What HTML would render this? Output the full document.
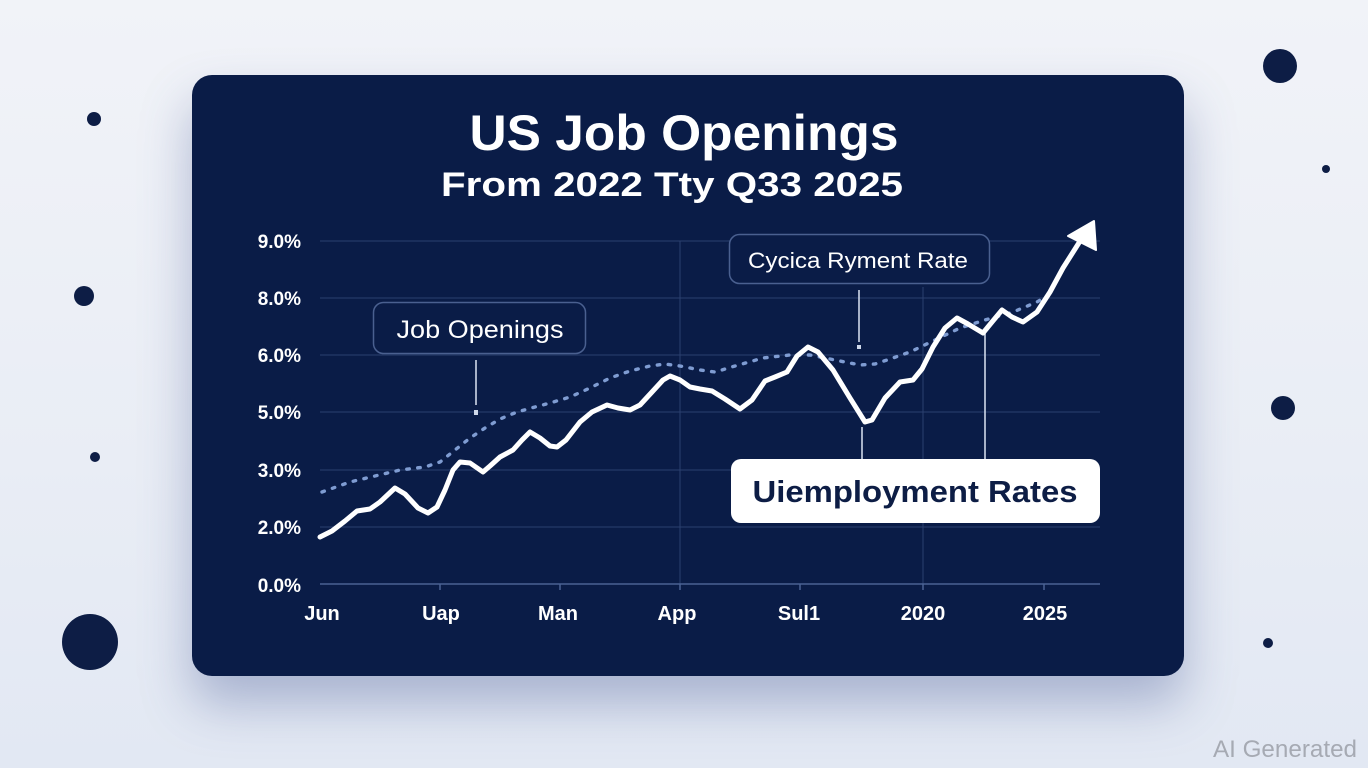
<!DOCTYPE html>
<html><head><meta charset="utf-8"><style>
html,body{margin:0;padding:0;}
body{width:1368px;height:768px;overflow:hidden;background:linear-gradient(180deg,#f1f3f8 0%,#e9edf5 60%,#e2e8f3 100%);position:relative;font-family:"Liberation Sans",sans-serif;}
.card{position:absolute;left:192px;top:75px;width:992px;height:601px;border-radius:20px;background:#0a1c47;box-shadow:0 28px 50px rgba(70,90,150,0.38);}
svg{position:absolute;left:0;top:0;}
</style></head><body>
<div class="card"></div>
<svg width="1368" height="768" viewBox="0 0 1368 768" xmlns="http://www.w3.org/2000/svg">
<g fill="#0d1d45">
<circle cx="94" cy="119" r="7"/>
<circle cx="1280" cy="66" r="17"/>
<circle cx="1326" cy="169" r="4"/>
<circle cx="84" cy="296" r="10"/>
<circle cx="1283" cy="408" r="12"/>
<circle cx="95" cy="457" r="5"/>
<circle cx="90" cy="642" r="28"/>
<circle cx="1268" cy="643" r="5"/>
</g>
<text x="684" y="150" text-anchor="middle" fill="#fff" font-family="Liberation Sans, sans-serif" font-weight="bold" font-size="50" textLength="429" lengthAdjust="spacingAndGlyphs">US Job Openings</text>
<text x="672" y="196" text-anchor="middle" fill="#fff" font-family="Liberation Sans, sans-serif" font-weight="bold" font-size="34" textLength="462" lengthAdjust="spacingAndGlyphs">From 2022 Tty Q33 2025</text>
<g stroke="#3a5080" stroke-width="1" opacity="0.7">
<line x1="320" y1="241" x2="1100" y2="241"/>
<line x1="320" y1="298" x2="1100" y2="298"/>
<line x1="320" y1="355" x2="1100" y2="355"/>
<line x1="320" y1="412" x2="1100" y2="412"/>
<line x1="320" y1="470" x2="1100" y2="470"/>
<line x1="320" y1="527" x2="1100" y2="527"/>
<line x1="680" y1="241" x2="680" y2="584"/>
<line x1="923" y1="287" x2="923" y2="584"/>
</g>
<g stroke="#4a6294" stroke-width="1.5">
<line x1="320" y1="584" x2="1100" y2="584"/>
<line x1="440" y1="584" x2="440" y2="590"/>
<line x1="560" y1="584" x2="560" y2="590"/>
<line x1="680" y1="584" x2="680" y2="590"/>
<line x1="800" y1="584" x2="800" y2="590"/>
<line x1="923" y1="584" x2="923" y2="590"/>
<line x1="1044" y1="584" x2="1044" y2="590"/>
</g>
<g fill="#fff" font-family="Liberation Sans, sans-serif" font-weight="bold" font-size="19" text-anchor="end">
<text x="301" y="248">9.0%</text>
<text x="301" y="305">8.0%</text>
<text x="301" y="362">6.0%</text>
<text x="301" y="419">5.0%</text>
<text x="301" y="477">3.0%</text>
<text x="301" y="534">2.0%</text>
<text x="301" y="592">0.0%</text>
</g>
<g fill="#fff" font-family="Liberation Sans, sans-serif" font-weight="bold" font-size="20" text-anchor="middle">
<text x="322" y="620">Jun</text>
<text x="441" y="620">Uap</text>
<text x="558" y="620">Man</text>
<text x="677" y="620">App</text>
<text x="799" y="620">Sul1</text>
<text x="923" y="620">2020</text>
<text x="1045" y="620">2025</text>
</g>
<polyline fill="none" stroke="#7f9cd2" stroke-width="3.4" stroke-dasharray="2.5 8.5" stroke-linecap="round" stroke-linejoin="round"
points="322,492 350,482 375,476 400,470 425,467 440,462 455,450 470,438 485,428 500,419 517,412 535,407 550,403 570,397 590,388 610,378 630,371 650,366 665,364 680,366 700,370 715,372 735,366 763,358 790,355 810,355 835,360 860,365 875,364 890,359 910,352 935,340 960,328 985,320 1013,312 1037,302 1047,296"/>
<g stroke="#cfd8ea" stroke-width="1.6">
<line x1="476" y1="360" x2="476" y2="405"/>
<line x1="859" y1="290" x2="859" y2="342"/>
<line x1="862" y1="427" x2="862" y2="459"/>
<line x1="985" y1="333" x2="985" y2="459"/>
</g>
<rect x="474" y="410" width="4" height="5" fill="#cfd8ea"/>
<rect x="857" y="345" width="4" height="4" fill="#cfd8ea"/>
<polyline fill="none" stroke="#ffffff" stroke-width="5" stroke-linecap="round" stroke-linejoin="round"
points="320,537 332,531 345,521 357,511 370,509 380,502 395,488 405,494 418,508 428,513 437,507 445,490 453,470 460,462 470,463 483,472 490,466 500,457 513,450 522,440 530,432 540,438 550,446 557,447 566,440 580,422 592,412 607,405 618,408 630,410 640,405 652,392 663,380 670,376 680,380 690,387 700,389 712,391 725,399 740,409 752,400 765,381 775,377 787,372 797,356 808,347 818,352 833,370 850,398 865,422 872,420 885,398 900,382 913,380 922,369 933,347 945,328 957,318 968,324 983,333 992,322 1002,310 1012,317 1023,322 1037,312 1050,292 1063,268 1082,238"/>
<polygon points="1094,221 1068,236 1096,250" fill="#ffffff" stroke="#ffffff" stroke-width="2" stroke-linejoin="round"/>
<rect x="373.5" y="302.5" width="212" height="51" rx="10" fill="#0a1c47" stroke="#4a6090" stroke-width="1.5"/>
<text x="480" y="338" text-anchor="middle" fill="#fff" font-family="Liberation Sans, sans-serif" font-size="25" textLength="167" lengthAdjust="spacingAndGlyphs">Job Openings</text>
<rect x="729.5" y="234.5" width="260" height="49" rx="10" fill="#0a1c47" stroke="#4a6090" stroke-width="1.5"/>
<text x="858" y="268" text-anchor="middle" fill="#fff" font-family="Liberation Sans, sans-serif" font-size="22" textLength="220" lengthAdjust="spacingAndGlyphs">Cycica Ryment Rate</text>
<rect x="731" y="459" width="369" height="64" rx="10" fill="#ffffff"/>
<text x="915" y="502" text-anchor="middle" fill="#0d1d45" font-family="Liberation Sans, sans-serif" font-weight="bold" font-size="31" textLength="325" lengthAdjust="spacingAndGlyphs">Uiemployment Rates</text>
<text x="1357" y="757" text-anchor="end" fill="#a6aab3" font-family="Liberation Sans, sans-serif" font-size="24" textLength="144" lengthAdjust="spacingAndGlyphs">AI Generated</text>
</svg>
</body></html>
